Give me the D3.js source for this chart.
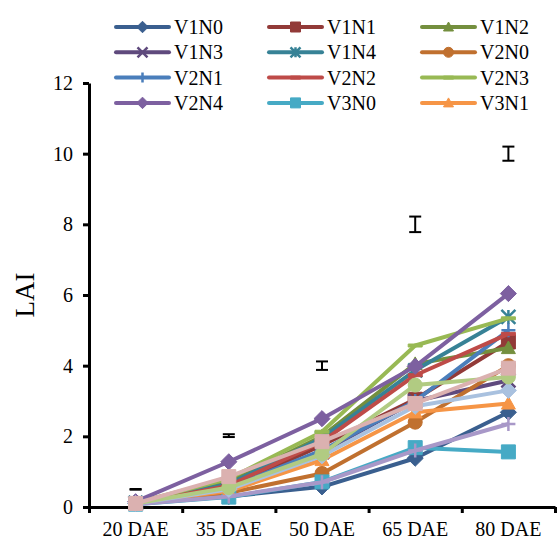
<!DOCTYPE html>
<html>
<head>
<meta charset="utf-8">
<script src="https://cdn.jsdelivr.net/npm/d3@7"></script>
<style>
  html, body { margin: 0; padding: 0; background: #fff; }
  #chart svg, #chart svg text { font-family: 'Liberation Serif', 'Times New Roman', Times, 'DejaVu Serif', serif !important; }
</style>
</head>
<body>
<div id="chart"></div>
<script>
// categories and tick values
const categories = ['20 DAE', '35 DAE', '50 DAE', '65 DAE', '80 DAE'];
const yTicks = [0, 2, 4, 6, 8, 10, 12];

// LAI per treatment
const V1N0 = [0.10, 0.30, 0.57, 1.38, 2.68];
const V1N1 = [0.10, 0.55, 1.75, 3.05, 4.67];
const V1N2 = [0.12, 0.70, 2.00, 4.05, 4.50];
const V1N3 = [0.10, 0.50, 1.55, 3.00, 3.58];
const V1N4 = [0.12, 0.65, 1.95, 3.87, 5.38];
const V2N0 = [0.12, 0.40, 0.95, 2.40, 4.00];
const V2N1 = [0.10, 0.55, 1.60, 3.00, 5.00];
const V2N2 = [0.10, 0.60, 1.85, 3.73, 4.90];
const V2N3 = [0.12, 0.80, 2.13, 4.57, 5.34];
const V2N4 = [0.15, 1.28, 2.50, 3.98, 6.04];
const V3N0 = [0.08, 0.28, 0.71, 1.68, 1.56];
const V3N1 = [0.12, 0.45, 1.33, 2.68, 2.93];
// series drawn but cut off from the legend
const V3N2 = [0.08, 0.30, 0.70, 1.60, 2.35];
const V3N3 = [0.10, 0.50, 1.45, 2.85, 3.30];
const V3N4 = [0.10, 0.55, 1.50, 3.45, 3.68];
const V3N5 = [0.10, 0.86, 1.85, 2.93, 3.93];

// LSD bars
const lsdCenter = [0.50, 2.02, 4.00, 8.00, 10.00];
const lsdHalf = [0.01, 0.04, 0.12, 0.22, 0.20];

const series = [
  { name: 'V1N0', values: V1N0, color: '#3A5F8F', marker: 'diamond', legend: true },
  { name: 'V1N1', values: V1N1, color: '#923A38', marker: 'square', legend: true },
  { name: 'V1N2', values: V1N2, color: '#748F3E', marker: 'triangle', legend: true },
  { name: 'V1N3', values: V1N3, color: '#5F4A7D', marker: 'x', legend: true },
  { name: 'V1N4', values: V1N4, color: '#378296', marker: 'star', legend: true },
  { name: 'V2N0', values: V2N0, color: '#C0702F', marker: 'circle', legend: true },
  { name: 'V2N1', values: V2N1, color: '#4A7EBB', marker: 'plus', legend: true },
  { name: 'V2N2', values: V2N2, color: '#BE4B48', marker: 'dash', legend: true },
  { name: 'V2N3', values: V2N3, color: '#98B954', marker: 'dash', legend: true },
  { name: 'V2N4', values: V2N4, color: '#7D60A0', marker: 'diamond', legend: true },
  { name: 'V3N0', values: V3N0, color: '#46AAC5', marker: 'square', legend: true },
  { name: 'V3N1', values: V3N1, color: '#F69546', marker: 'triangle', legend: true },
  { name: 'V3N2', values: V3N2, color: '#A898C8', marker: 'plus', legend: false },
  { name: 'V3N3', values: V3N3, color: '#A9C1DF', marker: 'diamond', legend: false },
  { name: 'V3N4', values: V3N4, color: '#B1CB82', marker: 'circle', legend: false },
  { name: 'V3N5', values: V3N5, color: '#DBB1B0', marker: 'square', legend: false }
];

const cfg = {
  width: 557,
  height: 545,
  margin: { top: 83, right: 2, bottom: 38, left: 89 },
  lineWidth: 4,
  markerSize: 7,
  font: 20
};

const svg = d3.select('#chart').append('svg')
  .attr('width', cfg.width)
  .attr('height', cfg.height);

const x = d3.scaleBand()
  .domain(categories)
  .range([cfg.margin.left, cfg.width - cfg.margin.right])
  .padding(0);

const y = d3.scaleLinear()
  .domain([0, 12])
  .range([cfg.height - cfg.margin.bottom, cfg.margin.top]);

const cx = c => x(c) + x.bandwidth() / 2;

function markerPath(type, s) {
  switch (type) {
    case 'diamond': return `M0,${-s * 1.15}L${s * 1.15},0L0,${s * 1.15}L${-s * 1.15},0Z`;
    case 'square': return `M${-s},${-s}H${s}V${s}H${-s}Z`;
    case 'triangle': return `M0,${-s}L${s},${s * 0.8}L${-s},${s * 0.8}Z`;
    case 'circle': return d3.symbol(d3.symbolCircle, Math.PI * s * s)();
    case 'x': return `M${-s},${-s}L${s},${s}M${s},${-s}L${-s},${s}`;
    case 'star': return `M${-s},${-s}L${s},${s}M${s},${-s}L${-s},${s}M0,${-s}V${s}`;
    case 'plus': return `M${-s},0H${s}M0,${-s}V${s}`;
    case 'dash': return `M${-s},-1.5H${s}V1.5H${-s}Z`;
  }
}
const strokeOnly = t => t === 'x' || t === 'star' || t === 'plus';

function drawMarker(g, type, color, s) {
  g.append('path')
    .attr('d', markerPath(type, s))
    .attr('fill', strokeOnly(type) ? 'none' : color)
    .attr('stroke', color)
    .attr('stroke-width', strokeOnly(type) ? 2.5 : 1);
}

// axes
const yAxis = svg.append('g')
  .attr('transform', `translate(${cfg.margin.left},0)`)
  .call(d3.axisLeft(y).tickValues(yTicks).tickSize(6).tickSizeOuter(0).tickPadding(10));
yAxis.selectAll('text').attr('font-size', cfg.font).attr('fill', '#000');

const boundary = d3.scaleLinear().domain([0, categories.length])
  .range([cfg.margin.left, cfg.width - cfg.margin.right]);
svg.append('g')
  .attr('transform', `translate(0,${y(0)})`)
  .call(d3.axisBottom(boundary).ticks(categories.length).tickSize(6).tickSizeOuter(0).tickFormat(''));
const xLabels = svg.append('g')
  .attr('transform', `translate(0,${y(0)})`)
  .call(d3.axisBottom(x).tickSize(0).tickPadding(15))
  .call(g => g.select('.domain').remove());
xLabels.selectAll('text').attr('font-size', cfg.font).attr('fill', '#000');

svg.selectAll('.domain, .tick line').attr('stroke', '#000').attr('stroke-width', 3);

svg.append('text')
  .attr('transform', `translate(34,${(y(0) + y(12)) / 2}) rotate(-90)`)
  .attr('text-anchor', 'middle')
  .attr('font-size', 27)
  .text('LAI');

// series lines and markers
const line = d3.line().x((d, i) => cx(categories[i])).y(d => y(d));
series.forEach(s => {
  const g = svg.append('g');
  g.append('path')
    .attr('d', line(s.values))
    .attr('fill', 'none')
    .attr('stroke', s.color)
    .attr('stroke-width', cfg.lineWidth)
    .attr('stroke-linejoin', 'round');
  s.values.forEach((v, i) => {
    const m = g.append('g').attr('transform', `translate(${cx(categories[i])},${y(v)})`);
    drawMarker(m, s.marker, s.color, cfg.markerSize);
  });
});

// LSD bars
const bars = svg.append('g').attr('stroke', '#000').attr('stroke-width', 2);
lsdCenter.forEach((c, i) => {
  const px = cx(categories[i]);
  const lo = y(c - lsdHalf[i]), hi = y(c + lsdHalf[i]);
  bars.append('line').attr('x1', px).attr('x2', px).attr('y1', lo).attr('y2', hi);
  bars.append('line').attr('x1', px - 6).attr('x2', px + 6).attr('y1', lo).attr('y2', lo);
  bars.append('line').attr('x1', px - 6).attr('x2', px + 6).attr('y1', hi).attr('y2', hi);
});

// legend, 3 columns x 4 rows
const legendItems = series.filter(s => s.legend);
const legend = svg.append('g');
legendItems.forEach((s, i) => {
  const col = i % 3, row = Math.floor(i / 3);
  const g = legend.append('g').attr('transform', `translate(${116 + col * 153},${27 + row * 25.3})`);
  g.append('line').attr('x1', 0).attr('x2', 53)
    .attr('stroke', s.color).attr('stroke-width', cfg.lineWidth).attr('stroke-linecap', 'round');
  const m = g.append('g').attr('transform', 'translate(26.5,0)');
  drawMarker(m, s.marker, s.color, 5);
  g.append('text').attr('x', 58).attr('y', 7).attr('font-size', cfg.font).text(s.name);
});
</script>
</body>
</html>
